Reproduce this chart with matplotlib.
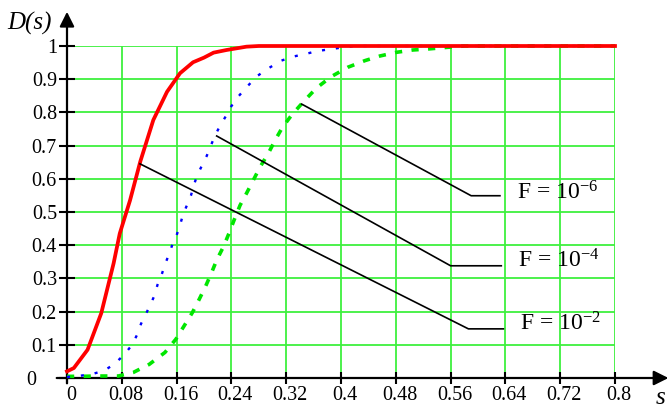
import matplotlib
matplotlib.use("Agg")
import matplotlib.pyplot as plt
from matplotlib.transforms import ScaledTranslation

plt.rcParams['font.family'] = ['Liberation Serif', 'DejaVu Serif']
plt.rcParams['mathtext.fontset'] = 'custom'
plt.rcParams['mathtext.rm'] = 'Liberation Serif'
plt.rcParams['mathtext.it'] = 'Liberation Serif:italic'

# curve data
s_red = [0, 0.01, 0.03, 0.05, 0.068, 0.077, 0.092, 0.107, 0.126, 0.146, 0.165,
         0.184, 0.2, 0.214, 0.233, 0.262, 0.28, 0.8]
d_red = [0.02, 0.03, 0.085, 0.195, 0.345, 0.435, 0.535, 0.652, 0.777, 0.862, 0.918,
         0.951, 0.965, 0.98, 0.988, 0.998, 1.0, 1.0]

s_blue = [0, 0.02, 0.037, 0.054, 0.07, 0.085, 0.095, 0.103, 0.108, 0.115, 0.122,
          0.128, 0.132, 0.138, 0.143, 0.149, 0.154, 0.16, 0.165, 0.169, 0.175,
          0.181, 0.185, 0.19, 0.197, 0.204, 0.21, 0.216, 0.223, 0.232, 0.24,
          0.251, 0.264, 0.278, 0.295, 0.313, 0.33, 0.348, 0.366, 0.383, 0.4,
          0.42, 0.8]
d_blue = [0.003, 0.007, 0.012, 0.022, 0.043, 0.074, 0.1, 0.133, 0.163, 0.192, 0.222,
          0.25, 0.28, 0.31, 0.342, 0.373, 0.403, 0.43, 0.46, 0.49, 0.52,
          0.55, 0.58, 0.61, 0.64, 0.669, 0.7, 0.73, 0.758, 0.789, 0.819,
          0.85, 0.88, 0.91, 0.934, 0.956, 0.968, 0.976, 0.985, 0.99, 0.995,
          1.0, 1.0]

s_green = [0, 0.02, 0.045, 0.075, 0.097, 0.12, 0.143, 0.159, 0.171, 0.183, 0.193,
           0.2025, 0.211, 0.2185, 0.229, 0.2365, 0.244, 0.2526, 0.262, 0.272, 0.282,
           0.294, 0.304, 0.3145, 0.328, 0.3455, 0.3645, 0.386, 0.41, 0.435, 0.457,
           0.481, 0.505, 0.527, 0.549, 0.58, 0.8]
d_green = [0.005, 0.005, 0.006, 0.006, 0.017, 0.041, 0.077, 0.117, 0.157, 0.197, 0.237,
           0.277, 0.317, 0.355, 0.398, 0.436, 0.476, 0.52, 0.556, 0.596, 0.636,
           0.677, 0.717, 0.755, 0.792, 0.833, 0.874, 0.908, 0.936, 0.956, 0.97,
           0.981, 0.988, 0.991, 0.995, 1.0, 1.0]

# leader lines for the F labels: start on curve, bend, end
lead_s = [[0.3426, 0.59, 0.632], [0.2185, 0.56, 0.634], [0.1066, 0.586, 0.637]]
lead_d = [[0.825, 0.549, 0.549], [0.729, 0.338, 0.338], [0.645, 0.148, 0.148]]
f_labels = ['F = 10$^{-6}$', 'F = 10$^{-4}$', 'F = 10$^{-2}$']
f_label_s = [0.657, 0.659, 0.662]
f_label_d = [0.557, 0.352, 0.163]

x_ticks = [0, 0.08, 0.16, 0.24, 0.32, 0.4, 0.48, 0.56, 0.64, 0.72, 0.8]
x_ticklabels = ['0', '0.08', '0.16', '0.24', '0.32', '0.4', '0.48', '0.56', '0.64', '0.72', '0.8']
y_ticks = [0, 0.1, 0.2, 0.3, 0.4, 0.5, 0.6, 0.7, 0.8, 0.9, 1]
y_ticklabels = ['0    ', '0.1', '0.2', '0.3', '0.4', '0.5', '0.6', '0.7', '0.8', '0.9', '1']

fig = plt.figure(figsize=(6.71, 4.08), dpi=100)
ax = fig.add_axes([67 / 671, 30 / 408, 548 / 671, 332 / 408])
ax.set_xlim(0, 0.8)
ax.set_ylim(0, 1)
for sp in ax.spines.values():
    sp.set_visible(False)

ax.set_xticks(x_ticks)
ax.set_xticklabels(x_ticklabels, fontsize=14.5)
ax.set_yticks(y_ticks)
ax.set_yticklabels(y_ticklabels, fontsize=14.5)
ax.tick_params(axis='x', direction='inout', length=8.6, width=1.5, pad=1.5)
ax.tick_params(axis='y', direction='inout', length=11.5, width=1.5, pad=1.5)
shift = ScaledTranslation(4 / 100, 0, fig.dpi_scale_trans)
for lab in ax.get_xticklabels():
    lab.set_transform(lab.get_transform() + shift)

ax.grid(True, color='#3ef03e', lw=1.3, zorder=0)
ax.set_axisbelow(True)

# axes with arrows
ax.annotate('', xy=(0.878, 0), xytext=(-0.015, 0), annotation_clip=False,
            arrowprops=dict(arrowstyle='-|>', lw=1.6, color='black', mutation_scale=22,
                            shrinkA=0, shrinkB=0))
ax.annotate('', xy=(0, 1.103), xytext=(0, -0.016), annotation_clip=False,
            arrowprops=dict(arrowstyle='-|>', lw=1.6, color='black', mutation_scale=22,
                            shrinkA=0, shrinkB=0))

ax.plot(s_green, d_green, color='#00e600', lw=2.6, dashes=(2, 2.6), clip_on=False, zorder=3)
ax.plot(s_blue, d_blue, color='#0000ff', lw=1.7, dashes=(1.3, 4.6), clip_on=False, zorder=4)
ax.plot(s_red, d_red, color='#ff0000', lw=2.7, clip_on=False, zorder=5)

for xs, ys in zip(lead_s, lead_d):
    ax.plot(xs, ys, color='black', lw=1.2, zorder=6)
for lab, xs, ys in zip(f_labels, f_label_s, f_label_d):
    ax.text(xs, ys, lab, fontsize=17, ha='left', va='center', zorder=7)

ax.text(-0.055, 1.069, 'D(s)', fontsize=18, style='italic', ha='center', va='center',
        clip_on=False)
ax.text(0.866, -0.06, 's', fontsize=18, style='italic', ha='center', va='center',
        clip_on=False)

fig.savefig('out.png', dpi=100)
